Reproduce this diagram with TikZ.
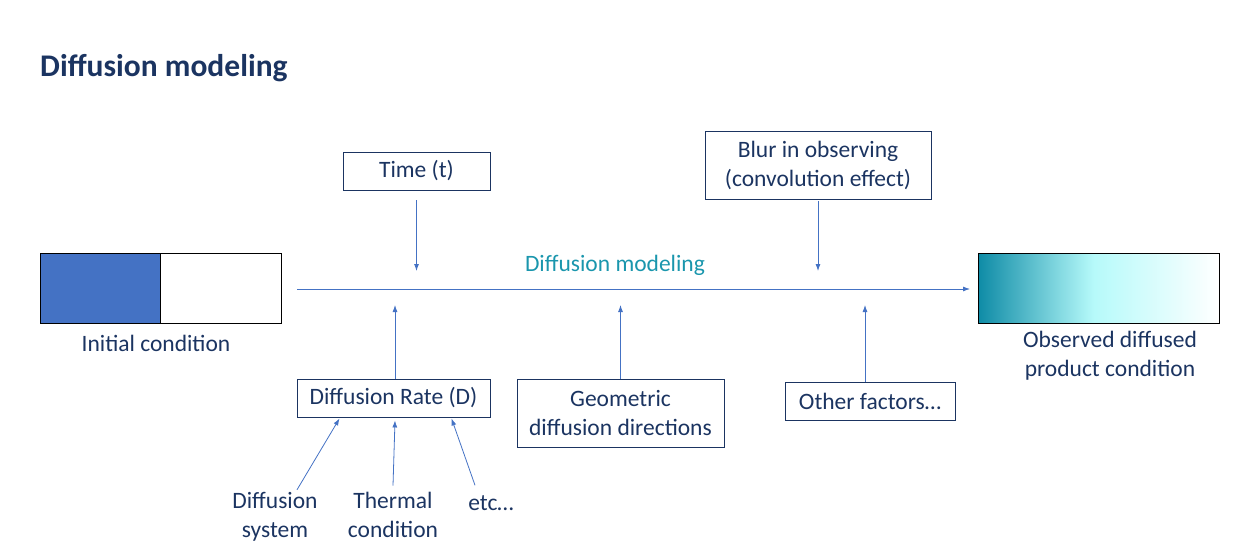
\documentclass[tikz,border=0pt]{standalone}
\usepackage{fontspec}
\setmainfont{Carlito}
\usepackage{tikz}
\usetikzlibrary{arrows.meta,positioning}

\definecolor{navy}{HTML}{1B3461}
\definecolor{arrowblue}{HTML}{4472C4}
\definecolor{tealtext}{HTML}{1A96AD}
\definecolor{deepteal}{HTML}{0E8BA6}
\definecolor{lightcyan}{HTML}{B6FAFA}
\pgfdeclarehorizontalshading{diffshade}{100bp}{color(0bp)=(deepteal); color(25bp)=(deepteal); color(49bp)=(lightcyan); color(75bp)=(white); color(100bp)=(white)}

\tikzset{
	factorbox/.style={rectangle,draw=navy,line width=0.9pt,text=navy,align=center,inner sep=0pt},
	plainlabel/.style={text=navy,align=center,inner sep=0pt},
	flow/.style={draw=arrowblue,line width=0.8pt,-{Latex[length=7pt,width=5pt]}}
}

\begin{document}
\begin{tikzpicture}[x=1pt,y=-1pt,font=\fontsize{23.5}{29}\selectfont]
\useasboundingbox (0,0) rectangle (1258,559);

\node[anchor=west,text=navy,inner sep=0pt,font=\fontsize{31.5}{36}\selectfont\bfseries] (title) at (40,68) {Diffusion modeling};

% initial and observed condition
\fill[arrowblue] (40,253) rectangle (160,323);
\draw[black,line width=0.9pt] (40,253) rectangle (281,323);
\draw[black,line width=0.9pt] (160,253) -- (160,323);
\node[plainlabel] (initlabel) at (156,343) {Initial condition};

\shade[shading=diffshade] (978,253) rectangle (1219,323);
\draw[black,line width=0.9pt] (978,253) rectangle (1219,323);
\node[plainlabel] (finallabel) at (1110,355.5) {Observed diffused\\product condition};

\begin{scope}[every node/.style={factorbox}]
	\node[minimum width=147pt,minimum height=38pt] (time) at (416.5,171) {Time (t)};
	\node[minimum width=226pt,minimum height=68pt] (blur) at (818,165) {Blur in observing\\(convolution effect)};
	\node[minimum width=193pt,minimum height=38pt] (rate) at (393.5,398) {Diffusion Rate (D)};
	\node[minimum width=207pt,minimum height=68pt] (geom) at (620.5,413) {Geometric\\diffusion directions};
	\node[minimum width=170pt,minimum height=38pt] (other) at (870,401) {Other factors…};
\end{scope}

\begin{scope}[every node/.style={plainlabel}]
	\node (system) at (275,516.5) {Diffusion\\system};
	\node (thermal) at (393,514.5) {Thermal\\condition};
	\node (etc) at (491,503) {etc…};
	\node[text=tealtext] (model) at (615,265) {Diffusion modeling};
\end{scope}

\coordinate (start) at (297,289);
\coordinate (stop) at (970,289);

\begin{scope}
	\draw[flow] (start) -- (stop);
	\draw[flow] ([yshift=-10pt]time.south) -- ([yshift=18pt]time.south |- start);
	\draw[flow] ([yshift=-2pt]blur.south) -- ([yshift=18pt]blur.south |- start);
	\draw[flow] ([xshift=1.5pt]rate.north) -- ([xshift=1.5pt,yshift=-16pt]rate.north |- start);
	\draw[flow] (geom.north) -- ([yshift=-16pt]geom.north |- start);
	\draw[flow] ([xshift=-5pt]other.north) -- ([xshift=-5pt,yshift=-16pt]other.north |- start);
	\draw[flow] ([xshift=22pt,yshift=2pt]system.north) -- ([xshift=-54pt,yshift=-1pt]rate.south);
	\draw[flow] ([yshift=6pt]thermal.north) -- ([xshift=1.5pt,yshift=-3pt]rate.south);
	\draw[flow] ([xshift=-16pt,yshift=10pt]etc.north) -- ([xshift=58pt,yshift=-1pt]rate.south);
\end{scope}

\end{tikzpicture}
\end{document}
